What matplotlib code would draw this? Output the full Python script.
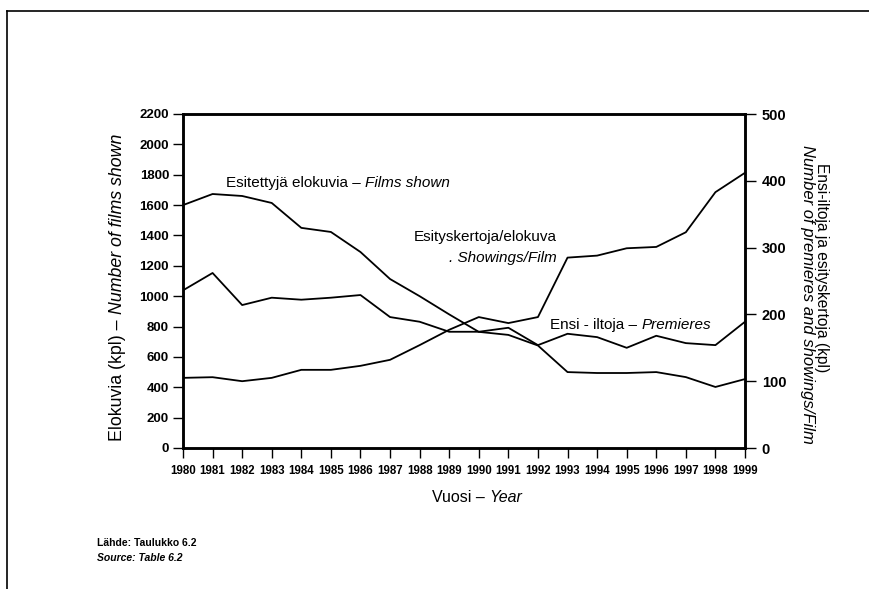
import matplotlib
matplotlib.use("Agg")
import matplotlib.pyplot as plt
from matplotlib.lines import Line2D

plt.rcParams['font.family'] = ['Liberation Sans', 'DejaVu Sans']

vuodet = list(range(1980, 2000))
# Esitettyjä elokuvia (vasen akseli, kpl)
elokuvia = [1600, 1673, 1660, 1614, 1450, 1423, 1291, 1113, 1000, 880,
            765, 745, 675, 500, 494, 494, 500, 467, 402, 454]
# Ensi-iltoja (oikea akseli)
ensi_illat = [236, 262, 214, 225, 222, 225, 229, 196, 189, 174,
              174, 180, 154, 171, 166, 150, 168, 157, 154, 189]
# Esityskertoja/elokuva (oikea akseli)
esityskerrat = [105, 106, 100, 105, 117, 117, 123, 132, 154, 177,
                196, 187, 196, 285, 288, 299, 301, 323, 383, 412]

W, H = 869, 589
fig = plt.figure(figsize=(W / 100, H / 100), dpi=100)
ax = fig.add_axes([183 / W, 1 - 448 / H, (745 - 183) / W, (448 - 114) / H])
ax2 = ax.twinx()

ax.plot(vuodet, elokuvia, color='black', lw=1.3)
ax2.plot(vuodet, ensi_illat, color='black', lw=1.3)
ax2.plot(vuodet, esityskerrat, color='black', lw=1.3)

ax.set_xlim(1980, 1999)
ax.set_ylim(0, 2200)
ax2.set_ylim(0, 500)
ax.set_xticks(vuodet)
ax.set_yticks(range(0, 2201, 200))
ax2.set_yticks(range(0, 501, 100))

for a in (ax, ax2):
    for s in a.spines.values():
        s.set_linewidth(1.8)
ax.tick_params(axis='x', direction='out', length=7, width=1,
               labelsize=8.3, pad=5)
ax.tick_params(axis='y', direction='out', length=7, width=1,
               labelsize=9.5, pad=3)
ax2.tick_params(axis='y', direction='out', length=8, width=1,
                labelsize=10.5, pad=4)
for lab in ax.get_xticklabels() + ax.get_yticklabels():
    lab.set_fontweight('bold')
for lab in ax2.get_yticklabels():
    lab.set_fontweight('bold')


def kaksiosainen(x, y, a, b, size, rot=0):
    # tavallinen + kursiivi osa peräkkäin, pikselikoordinaateissa
    if rot == 0:
        t1 = fig.text(x / W, 1 - y / H, a, fontsize=size, va='center',
                      ha='left')
        ax.annotate(b, xy=(1, 0), xycoords=t1, va='bottom', ha='left',
                    fontsize=size, style='italic', annotation_clip=False)
    else:
        t1 = fig.text(x / W, 1 - y / H, a, fontsize=size, va='bottom',
                      ha='center', rotation=90)
        ax.annotate(b, xy=(0.5, 1), xycoords=t1, va='bottom', ha='center',
                    rotation=90, fontsize=size, style='italic',
                    annotation_clip=False)


kaksiosainen(226, 183, 'Esitettyjä elokuvia – ', 'Films shown', 11)
kaksiosainen(550, 325, 'Ensi - iltoja – ', 'Premieres', 11)
fig.text(414 / W, 1 - 237 / H, 'Esityskertoja/elokuva', fontsize=11,
         va='center', ha='left')
fig.text(557 / W, 1 - 258 / H, '. Showings/Film', fontsize=11,
         va='center', ha='right', style='italic')

kaksiosainen(432, 498, 'Vuosi – ', 'Year', 11.5)
kaksiosainen(118, 441, 'Elokuvia (kpl) – ', 'Number of films shown', 12.8,
             rot=90)

fig.text(822 / W, 1 - 268 / H, 'Ensi-iltoja ja esityskertoja (kpl)',
         fontsize=11.2, rotation=-90, va='center', ha='center')
fig.text(807 / W, 1 - 294 / H, 'Number of premieres and showings/Film',
         fontsize=12, rotation=-90, va='center', ha='center', style='italic')

fig.text(97 / W, 1 - 543 / H, 'Lähde: Taulukko 6.2', fontsize=7.5,
         fontweight='bold', va='center', ha='left')
fig.text(97 / W, 1 - 558 / H, 'Source: Table 6.2', fontsize=7.5,
         fontweight='bold', style='italic', va='center', ha='left')

# sivun kehys
fig.add_artist(Line2D([7 / W, 7 / W], [0, 1 - 11 / H], color='black',
                      lw=1.2, transform=fig.transFigure))
fig.add_artist(Line2D([7 / W, 1], [1 - 11 / H, 1 - 11 / H], color='black',
                      lw=1.2, transform=fig.transFigure))

fig.savefig('out.png', dpi=100)
